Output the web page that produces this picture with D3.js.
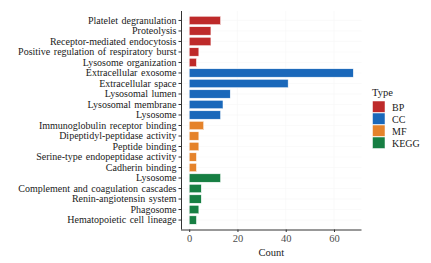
<!DOCTYPE html>
<html><head><meta charset="utf-8">
<script src="https://cdn.jsdelivr.net/npm/d3@7"></script>
<style>body{margin:0;background:#fff}svg{display:block}svg text{font-family:"Liberation Serif","Times New Roman",Times,serif}</style>
</head><body>
<svg id="c" width="431" height="263"></svg>
<script>
const terms = ["Platelet degranulation","Proteolysis","Receptor-mediated endocytosis","Positive regulation of respiratory burst","Lysosome organization","Extracellular exosome","Extracellular space","Lysosomal lumen","Lysosomal membrane","Lysosome","Immunoglobulin receptor binding","Dipeptidyl-peptidase activity","Peptide binding","Serine-type endopeptidase activity","Cadherin binding","Lysosome","Complement and coagulation cascades","Renin-angiotensin system","Phagosome","Hematopoietic cell lineage"];
const counts = [13,9,9,4,3,68,41,17,14,13,6,4,4,3,3,13,5,5,4,3];
const types = ["BP","BP","BP","BP","BP","CC","CC","CC","CC","CC","MF","MF","MF","MF","MF","KEGG","KEGG","KEGG","KEGG","KEGG"];
const typeNames = ["BP","CC","MF","KEGG"];
const typeColors = ["#BE2A2A","#1A68BA","#E5832B","#177F43"];
const xTicks = [0,20,40,60];

const svg = d3.select("#c");
const L = 181, R = 361.5, T = 11, B = 229.5;
const x = d3.scaleLinear().domain([-3.4, 71.4]).range([L, R]);
const idx = d3.range(terms.length);
const y = d3.scaleBand().domain(idx).range([T, B]).paddingInner(0.2).paddingOuter(0.5);
const color = d3.scaleOrdinal().domain(typeNames).range(typeColors);

// faint grid
const g = svg.append("g");
xTicks.forEach(t => g.append("line").attr("x1", x(t)).attr("x2", x(t)).attr("y1", T).attr("y2", B).attr("stroke", "#f6f6f6").attr("stroke-width", 0.6));
idx.forEach(i => g.append("line").attr("x1", L).attr("x2", R).attr("y1", y(i)+y.bandwidth()/2).attr("y2", y(i)+y.bandwidth()/2).attr("stroke", "#f6f6f6").attr("stroke-width", 0.6));

// bars
svg.append("g").selectAll("rect").data(idx).join("rect")
  .attr("x", x(0)).attr("y", i => y(i))
  .attr("width", i => x(counts[i]) - x(0)).attr("height", y.bandwidth())
  .attr("fill", i => color(types[i])).attr("stroke", "#fff").attr("stroke-width", 0.5);

// y axis
const yAxis = d3.axisLeft(y).tickFormat(i => terms[i]).tickSize(2.5).tickPadding(2);
const ya = svg.append("g").attr("transform", `translate(${L},0)`).call(yAxis);
ya.attr("font-family", null);
ya.select(".domain").attr("d", `M0.5,${T}V${B}`).attr("stroke", "#333");
ya.selectAll(".tick line").attr("stroke", "#333");
ya.selectAll("text").attr("font-size", 10).attr("fill", "#1a1a1a").style("word-spacing", "1px");

// x axis
const xa = svg.append("g").attr("transform", `translate(0,${B})`).call(d3.axisBottom(x).tickValues(xTicks).tickSize(2.5).tickPadding(3));
xa.attr("font-family", null);
xa.select(".domain").attr("d", `M${L},0.5H${R}`).attr("stroke", "#333");
xa.selectAll(".tick line").attr("stroke", "#333");
xa.selectAll("text").attr("font-size", 10.5).attr("fill", "#4d4d4d");
svg.append("text").attr("x", (L+R)/2).attr("y", 256).attr("text-anchor", "middle")
  .attr("font-size", 10.5).attr("fill", "#1a1a1a").text("Count");

// legend
const lg = svg.append("g");
lg.append("text").attr("x", 372).attr("y", 96).attr("font-size", 10.5).attr("fill", "#1a1a1a").text("Type");
typeNames.forEach((t, k) => {
  const cy = 101 + k * 12;
  lg.append("rect").attr("x", 372.5).attr("y", cy).attr("width", 12.5).attr("height", 11.5).attr("fill", color(t)).attr("stroke", "#fff").attr("stroke-width", 0.5);
  lg.append("text").attr("x", 392).attr("y", cy + 9.5).attr("font-size", 10).attr("fill", "#1a1a1a").text(t);
});
</script>
</body></html>
